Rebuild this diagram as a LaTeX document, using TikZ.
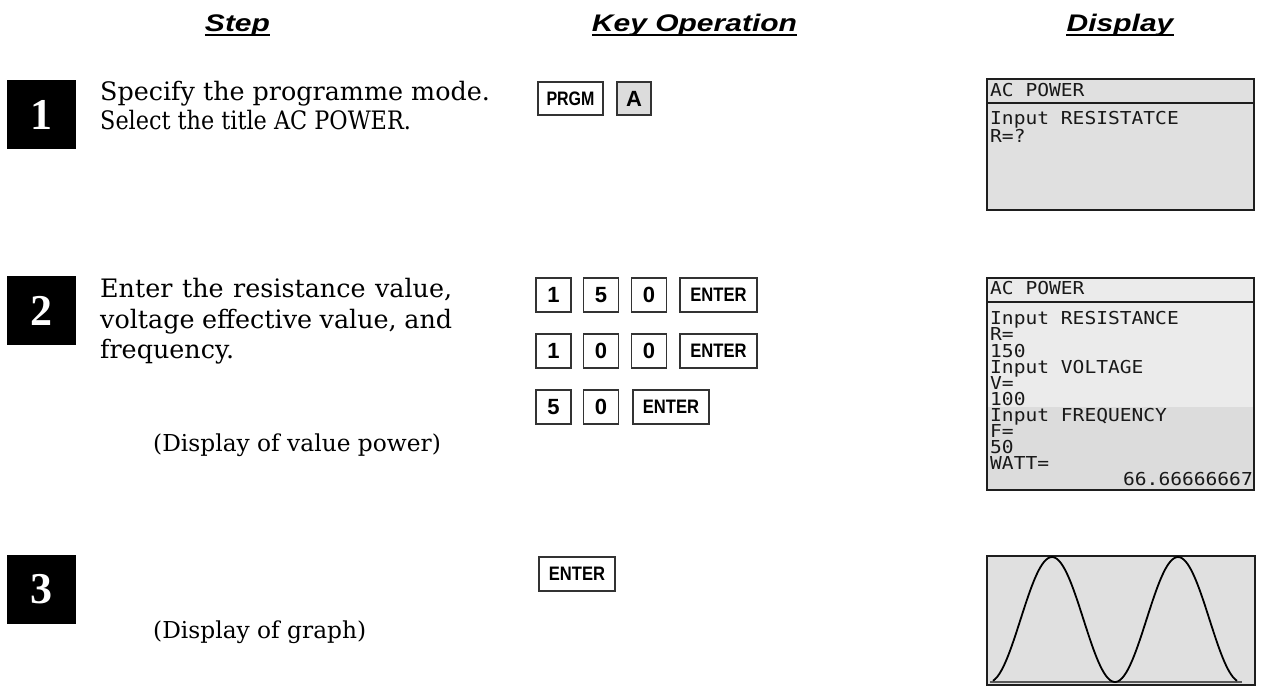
\documentclass[tikz,border=0pt]{standalone}
\usepackage{fontspec}
\setmainfont{DejaVu Serif}
\newfontfamily\hdfont[FakeStretch=1.25]{Liberation Sans}
\newfontfamily\keyfont{Liberation Sans}
\newfontfamily\numfont{Liberation Serif}
\newfontfamily\lcdfont[FakeStretch=1.1]{DejaVu Sans Mono}
\definecolor{lcdA}{HTML}{E0E0E0}
\definecolor{lcdB}{HTML}{EBEBEB}
\definecolor{lcdC}{HTML}{DCDCDC}
\definecolor{frm}{HTML}{1E1E1E}
\definecolor{keyA}{HTML}{DCDCDC}
\begin{document}
\begin{tikzpicture}[x=1pt,y=-1pt,
 hdr/.style={font=\hdfont\bfseries\itshape\fontsize{24}{24}\selectfont, inner sep=0, anchor=base},
 txt/.style={font=\fontsize{25.4}{30}\selectfont, inner sep=0, anchor=base west},
 captxt/.style={font=\fontsize{23.3}{26}\selectfont, inner sep=0, anchor=base west},
 numbox/.style={fill=black, text=white, minimum size=69pt, inner sep=0, font=\numfont\bfseries\fontsize{44}{44}\selectfont},
 key/.style={draw=black!80, line width=1.2pt, fill=white, minimum width=35pt, minimum height=34pt, inner sep=0, font=\keyfont\bfseries\fontsize{22}{22}\selectfont},
 wkey/.style={key, font=\keyfont\bfseries\fontsize{19.5}{19.5}\selectfont},
 lcd/.style={font=\lcdfont\fontsize{17.8}{17.8}\selectfont, inner sep=0, anchor=base west, text=black!90, text height=12pt, text depth=1pt},
 lcdframe/.style={draw=frm, line width=2.5pt},
 uline/.style={line width=2pt},
]
\useasboundingbox (0,0) rectangle (1262,687);

% headers
\node[hdr] (h1) at (237.5,32) {Step};
\node[hdr] (h2) at (694.5,32) {Key Operation};
\node[hdr] (h3) at (1120,32) {Display};
\foreach \h in {h1,h2,h3}
  \draw[uline] ([yshift=-3.5pt]\h.base west) -- ([yshift=-3.5pt]\h.base east);

% step numbers
\node[numbox] (n1) at (41.5,114.5) {1};
\node[numbox] (n2) at (41.5,310.5) {2};
\node[numbox] (n3) at (41.5,589.5) {3};

% step texts
\node[txt] (s1a) at (100,101) {Specify the programme mode.};
\node[txt] (s1b) at (100,130) {\scalebox{0.88}[1]{Select the title AC POWER.}};
\node[txt] (s2a) at (100,298) {\makebox[352pt][s]{Enter the resistance value,}};
\node[txt] (s2b) at (100,329) {\makebox[352pt][s]{voltage effective value, and}};
\node[txt] (s2c) at (100,359) {frequency.};
\node[captxt] (s2d) at (153,451) {(Display of value power)};
\node[captxt] (s3a) at (153,638) {(Display of graph)};

% keys step 1
\node[wkey, minimum width=65pt, minimum height=33pt] (kprgm) at (570.5,98.5) {\scalebox{0.82}[1]{PRGM}};
\node[key, fill=keyA, minimum width=34pt, minimum height=33pt] (ka) at (634,98.5) {A};

% keys step 2
\node[key] (k21) at (553.5,295) {1};
\node[key] (k22) at (601,295) {5};
\node[key] (k23) at (649,295) {0};
\node[wkey, minimum width=77pt] (k24) at (718.5,295) {\scalebox{0.85}[1]{ENTER}};
\node[key] (k31) at (553.5,351) {1};
\node[key] (k32) at (601,351) {0};
\node[key] (k33) at (649,351) {0};
\node[wkey, minimum width=77pt] (k34) at (718.5,351) {\scalebox{0.85}[1]{ENTER}};
\node[key] (k41) at (553.5,407) {5};
\node[key] (k42) at (601,407) {0};
\node[wkey, minimum width=76pt] (k43) at (671,407) {\scalebox{0.85}[1]{ENTER}};

% key step 3
\node[wkey, minimum width=76pt] (k51) at (577,574) {\scalebox{0.85}[1]{ENTER}};

% display 1
\fill[lcdA] (987,79) rectangle (1254,210);
\draw[lcdframe] (987,79) rectangle (1254,210);
\draw[line width=2pt, draw=frm] (987,103) -- (1254,103);
\node[lcd] (d1t) at (990,97) {AC POWER};
\node[lcd] (d1a) at (990,124.5) {Input RESISTATCE};
\node[lcd] (d1b) at (990,142.5) {R=?};

% display 2
\fill[lcdB] (987,278) rectangle (1254,407);
\fill[lcdC] (987,407) rectangle (1254,490);
\draw[lcdframe] (987,278) rectangle (1254,490);
\draw[line width=2pt, draw=frm] (987,302) -- (1254,302);
\node[lcd] (d2t) at (990,295) {AC POWER};
\node[lcd] (d2a) at (990,325) {Input RESISTANCE};
\node[lcd] (d2b) at (990,341) {R=};
\node[lcd] (d2c) at (990,357) {150};
\node[lcd] (d2d) at (990,373) {Input VOLTAGE};
\node[lcd] (d2e) at (990,389) {V=};
\node[lcd] (d2f) at (990,405) {100};
\node[lcd] (d2g) at (990,421) {Input FREQUENCY};
\node[lcd] (d2h) at (990,437) {F=};
\node[lcd] (d2i) at (990,453) {50};
\node[lcd] (d2j) at (990,469) {WATT=};
\node[lcd, anchor=base east] (d2k) at (1253,485) {66.66666667};

% display 3
\fill[lcdA] (987,556) rectangle (1255,685);
\draw[lcdframe] (987,556) rectangle (1255,685);
\draw[line width=2pt, draw=black!65] (990,682) -- (1242,682);
\draw[line width=1.8pt, line join=round] plot[domain=4:248, samples=120, smooth] ({989+\x}, {682 - 125*pow(sin(1.42857*\x),2)});
\end{tikzpicture}
\end{document}
